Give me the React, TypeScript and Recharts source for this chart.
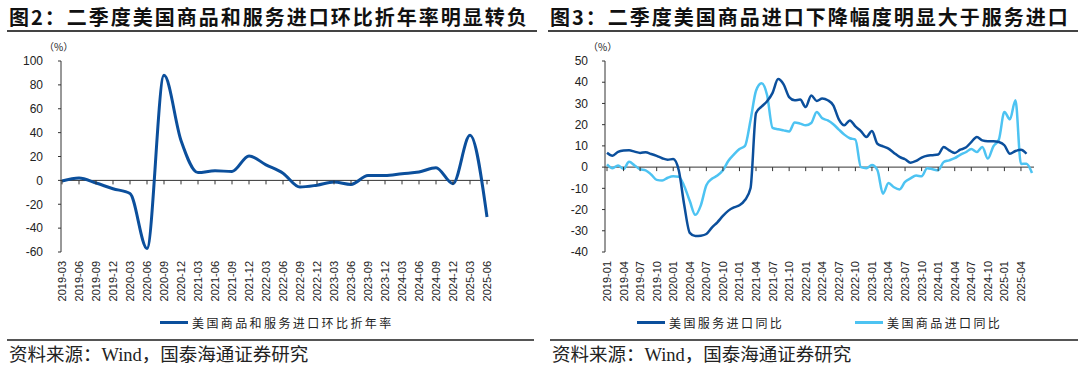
import { LineChart, Line, XAxis, YAxis, ReferenceLine, ReferenceDot } from "recharts";

// 图2: quarterly, 2019-03 .. 2025-06
const quarters = [
  "2019-03", "2019-06", "2019-09", "2019-12",
  "2020-03", "2020-06", "2020-09", "2020-12",
  "2021-03", "2021-06", "2021-09", "2021-12",
  "2022-03", "2022-06", "2022-09", "2022-12",
  "2023-03", "2023-06", "2023-09", "2023-12",
  "2024-03", "2024-06", "2024-09", "2024-12",
  "2025-03", "2025-06",
];
const importsQoqAnn = [
  -0.5, 2, -2.2, -7, -11, -57, 88, 33.5, 6.5, 8, 7.5, 20.5, 13, 6, -5.6, -4,
  -1.4, -3.4, 4, 4, 5.6, 7, 10.6, -2.8, 37.7, -30.7,
];

// 图3: monthly, 2019-01 .. 2025-06
const months: string[] = [];
for (let y = 2019; y <= 2025; y++) {
  for (let m = 1; m <= 12; m++) {
    if (y === 2025 && m > 6) break;
    months.push(`${y}-${String(m).padStart(2, "0")}`);
  }
}
const servicesYoy: (number | null)[] = [
  6.8, 5.4, 7.2, 7.8, 7.9, 7.3, 6.7, 7.0, 6.2, 5.3, 4.2, 3.5,
  3.8, -1.5, -18, -31, -32.5, -32.3, -31.5, -28.5, -26, -23, -20.5, -19,
  -18, -15.5, -10, 25.5, 28.5, 31, 35, 41.5, 39, 33, 31.5, 31.8,
  28.3, 33.8, 31.2, 32.3, 31.5, 29.1, 22.5, 19.7, 22, 19.2, 17, 14.2,
  17, 11, 9.8, 8.7, 6.7, 4.8, 3.7, 2.1, 2.9, 4.5, 5.4, 5.6,
  5.9, 9.5, 7.9, 6.7, 8.2, 9.2, 11.8, 14.2, 12.6, 12.2, 12.2, 11.8,
  10.3, 6.3, 7.6, 8.2, 6.3, null,
];
const goodsYoy: number[] = [
  1.3, -0.5, 0.8, -0.8, 2.5, 0.8, -1, -1.5, -3.5, -6, -6.3, -5,
  -4.3, -4.5, -9, -16, -22.5, -18, -8.5, -5.5, -4, -1.5, 3, 6,
  8.5, 10, 22, 36, 39.5, 34, 18.5, 17.8, 17.3, 16.8, 21, 20.5,
  19.7, 20.8, 26, 23, 22, 20.2, 17.7, 15.3, 13.6, 13, 0, -0.5,
  1, -1.5, -12.5, -7.5, -9.5, -10.5, -7, -5.3, -4, -4.3, -0.5, -1,
  -1.5, 2.4, 3.2, 4.2, 5.8, 7, 8.5, 7.1, 9.5, 4, 9.8, 13,
  26, 22.5, 31.5, 1.5, 1.6, -2.8,
];

const leftTicks = [-60, -40, -20, 0, 20, 40, 60, 80, 100];
const rightTicks = [-40, -30, -20, -10, 0, 10, 20, 30, 40, 50];

const leftData = quarters.map((d, i) => ({ date: d, value: importsQoqAnn[i] }));
const rightData = months.map((d, i) => ({
  date: d,
  services: servicesYoy[i],
  goods: goodsYoy[i],
}));

const DARK = "#0B4F9C";
const LIGHT = "#4DC3F2";
const AXIS = "#333";
const SANS = "'Liberation Sans', Arial, sans-serif";
const CJK = "'Noto Sans CJK SC', sans-serif";
const SERIF = "'Liberation Serif', 'Noto Sans CJK SC', serif";

function RotTick({ x, y, payload }: any) {
  return (
    <text
      x={x}
      y={y}
      transform={`rotate(-90 ${x} ${y})`}
      textAnchor="end"
      dominantBaseline="central"
      fontSize={11}
      fill="#222"
      fontFamily={SANS}
    >
      {payload.value}
    </text>
  );
}

const zeroTick = (p: any) => (
  <line x1={p.cx} y1={p.cy} x2={p.cx} y2={p.cy + 4} stroke={AXIS} strokeWidth={1} />
);

const yTick = { fontSize: 12, fill: "#222", fontFamily: SANS };

function Title({ left, text }: { left: number; text: string }) {
  return (
    <>
      <div
        style={{
          position: "absolute",
          left: left + 2,
          top: 2,
          fontFamily: CJK,
          fontWeight: 700,
          fontSize: 20,
          letterSpacing: 2,
          color: "#111",
          whiteSpace: "nowrap",
        }}
      >
        {text}
      </div>
      <div style={{ position: "absolute", left: left, top: 30, width: 530, height: 1.5, background: "#444" }} />
    </>
  );
}

function Footer({ left, width }: { left: number; width: number }) {
  return (
    <>
      <div style={{ position: "absolute", left, top: 339, width, height: 2, background: "#555" }} />
      <div
        style={{
          position: "absolute",
          left: left + 2,
          top: 340,
          fontFamily: SERIF,
          fontSize: 18.5,
          color: "#222",
          whiteSpace: "nowrap",
        }}
      >
        资料来源：Wind，国泰海通证券研究
      </div>
    </>
  );
}

function LegendItem({ left, color, text }: { left: number; color: string; text: string }) {
  return (
    <div style={{ position: "absolute", left, top: 314, display: "flex", alignItems: "center", whiteSpace: "nowrap" }}>
      <span style={{ display: "inline-block", width: 28, height: 3, background: color, marginRight: 4 }} />
      <span style={{ fontFamily: CJK, fontSize: 12, letterSpacing: 2.4, color: "#222" }}>{text}</span>
    </div>
  );
}

function Unit({ left }: { left: number }) {
  return (
    <div style={{ position: "absolute", left, top: 39, fontFamily: CJK, fontSize: 10, color: "#222" }}>
      （%）
    </div>
  );
}

export default function App() {
  return (
    <div style={{ position: "absolute", left: 0, top: 0, width: 1080, height: 374, background: "#fff", overflow: "hidden" }}>
      <Title left={7} text="图2：二季度美国商品和服务进口环比折年率明显转负" />
      <Title left={548} text="图3：二季度美国商品进口下降幅度明显大于服务进口" />

      <div style={{ position: "absolute", left: 0, top: 0 }}>
        <LineChart width={540} height={374} data={leftData} margin={{ top: 61, right: 50, bottom: 0, left: 0 }}>
          <XAxis
            dataKey="date"
            height={122}
            interval={0}
            axisLine={false}
            tickLine={false}
            tickMargin={3}
            tick={<RotTick />}
            padding={{ left: 1, right: 3 }}
          />
          <YAxis
            width={61}
            domain={[-60, 100]}
            ticks={leftTicks}
            interval={0}
            tick={yTick}
            tickSize={3}
            tickMargin={15}
            axisLine={{ stroke: AXIS }}
            tickLine={{ stroke: AXIS }}
          />
          <ReferenceLine y={0} stroke={AXIS} strokeWidth={1} />
          {quarters.map((q) => (
            <ReferenceDot key={q} x={q} y={0} shape={zeroTick} />
          ))}
          <Line
            type="monotone"
            dataKey="value"
            stroke={DARK}
            strokeWidth={3}
            dot={false}
            isAnimationActive={false}
          />
        </LineChart>
      </div>

      <div style={{ position: "absolute", left: 540, top: 0 }}>
        <LineChart width={540} height={374} data={rightData} margin={{ top: 61, right: 46, bottom: 0, left: 0 }}>
          <XAxis
            dataKey="date"
            height={122}
            interval={2}
            axisLine={false}
            tickLine={false}
            tickMargin={3}
            tick={<RotTick />}
            padding={{ left: 2, right: 2 }}
          />
          <YAxis
            width={65}
            domain={[-40, 50]}
            ticks={rightTicks}
            interval={0}
            tick={yTick}
            tickSize={3}
            tickMargin={14}
            axisLine={{ stroke: AXIS }}
            tickLine={{ stroke: AXIS }}
          />
          <ReferenceLine y={0} stroke={AXIS} strokeWidth={1} />
          {months
            .filter((_, i) => i % 3 === 0)
            .map((m) => (
              <ReferenceDot key={m} x={m} y={0} shape={zeroTick} />
            ))}
          <Line
            type="monotone"
            dataKey="goods"
            stroke={LIGHT}
            strokeWidth={2.5}
            dot={false}
            isAnimationActive={false}
          />
          <Line
            type="monotone"
            dataKey="services"
            stroke={DARK}
            strokeWidth={2.5}
            dot={false}
            isAnimationActive={false}
          />
        </LineChart>
      </div>

      <Unit left={44} />
      <Unit left={588} />

      <LegendItem left={160} color={DARK} text="美国商品和服务进口环比折年率" />
      <LegendItem left={637} color={DARK} text="美国服务进口同比" />
      <LegendItem left={855} color={LIGHT} text="美国商品进口同比" />

      <Footer left={7} width={527} />
      <Footer left={550} width={528} />
    </div>
  );
}
